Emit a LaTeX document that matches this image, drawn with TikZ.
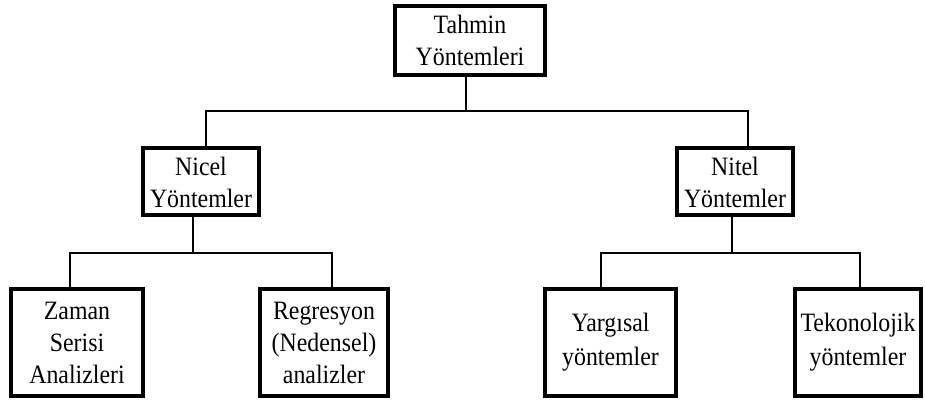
\documentclass[tikz,border=0pt]{standalone}
\usepackage{fontspec}
\setmainfont[FakeStretch=0.9]{Liberation Serif}
\begin{document}
\begin{tikzpicture}[x=1pt,y=-1pt,
  box/.style={draw=black,line width=4pt,rectangle,inner sep=0pt,align=center,
    font=\fontsize{26.5}{32}\selectfont},
  conn/.style={draw=black,line width=2.6pt}]
\useasboundingbox[fill=white] (0,0) rectangle (925,403);
% boxes
\node[box,minimum width=150pt,minimum height=69pt,text depth=0pt] (top) at (470,40.5) {Tahmin\\Yöntemleri};
\node[box,minimum width=116pt,minimum height=67pt] (nicel) at (201,182) {Nicel\\Yöntemler};
\node[box,minimum width=116pt,minimum height=67pt] (nitel) at (735,182) {Nitel\\Yöntemler};
\node[box,minimum width=132pt,minimum height=107pt] (zaman) at (77,342.5) {Zaman\\Serisi\\Analizleri};
\node[box,minimum width=128pt,minimum height=107pt] (regr) at (324,342.5) {Regresyon\\(Nedensel)\\analizler};
\node[box,minimum width=131pt,minimum height=107pt] (yarg) at (610.5,342.5) {Yargısal\\[2pt]yöntemler};
\node[box,minimum width=126pt,minimum height=107pt] (tekn) at (858,342.5) {Tekonolojik\\[2pt]yöntemler};
% junctions
\coordinate (j0) at (466,111);
\coordinate (a1) at (206,111);
\coordinate (a2) at (748,111);
\coordinate (j1) at (193,253);
\coordinate (b1) at (70,253);
\coordinate (b2) at (332,253);
\coordinate (j2) at (732,253);
\coordinate (c1) at (601,253);
\coordinate (c2) at (860,253);
% connectors
\draw[conn] (top.south -| j0) -- (j0);
\draw[conn] (nicel.north -| a1) -- (a1) -- (a2) -- (nitel.north -| a2);
\draw[conn] (nicel.south -| j1) -- (j1);
\draw[conn] (zaman.north -| b1) -- (b1) -- (b2) -- (regr.north -| b2);
\draw[conn] (nitel.south -| j2) -- (j2);
\draw[conn] (yarg.north -| c1) -- (c1) -- (c2) -- (tekn.north -| c2);
\end{tikzpicture}
\end{document}
